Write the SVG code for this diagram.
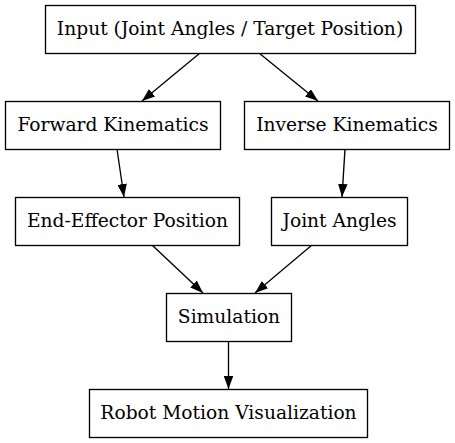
<svg xmlns="http://www.w3.org/2000/svg" width="455" height="443" viewBox="0 0 455 443">
<style>
.node rect{fill:#fff;stroke:#000;stroke-width:1.33}
.node text{font-family:"DejaVu Serif",serif;font-size:18.67px;fill:#000;text-anchor:middle}
.edges line{stroke:#000;stroke-width:1.33}
</style>
<defs>
<marker id="arr" viewBox="0 0 13 9.5" refX="13" refY="4.75" markerWidth="13" markerHeight="9.5" markerUnits="userSpaceOnUse" orient="auto">
<path d="M0,0 L13,4.75 L0,9.5 z" fill="#000"/>
</marker>
</defs>
<rect width="455" height="443" fill="#fff"/>
<g class="edges">
<line x1="200" y1="53" x2="142" y2="101" marker-end="url(#arr)"/>
<line x1="259" y1="53" x2="318" y2="101" marker-end="url(#arr)"/>
<line x1="117" y1="149" x2="124" y2="197" marker-end="url(#arr)"/>
<line x1="345" y1="149" x2="342" y2="197" marker-end="url(#arr)"/>
<line x1="152" y1="245" x2="203" y2="293" marker-end="url(#arr)"/>
<line x1="312" y1="245" x2="255" y2="293" marker-end="url(#arr)"/>
<line x1="228.5" y1="341" x2="228.5" y2="389" marker-end="url(#arr)"/>
</g>
<g id="input" class="node"><rect x="45.5" y="5.5" width="370" height="48"/><text x="230" y="35">Input (Joint Angles / Target Position)</text></g>
<g id="fk" class="node"><rect x="5.5" y="101.5" width="215" height="48"/><text x="113" y="131">Forward Kinematics</text></g>
<g id="ik" class="node"><rect x="244.5" y="101.5" width="205" height="48"/><text x="347" y="131">Inverse Kinematics</text></g>
<g id="ee" class="node"><rect x="15.5" y="197.5" width="224" height="48"/><text x="127.5" y="227">End-Effector Position</text></g>
<g id="ja" class="node"><rect x="271.5" y="197.5" width="136" height="48"/><text x="339.5" y="227">Joint Angles</text></g>
<g id="sim" class="node"><rect x="166.5" y="293.5" width="125" height="48"/><text x="229" y="323">Simulation</text></g>
<g id="viz" class="node"><rect x="89.5" y="389.5" width="278" height="48"/><text x="228.5" y="419">Robot Motion Visualization</text></g>
</svg>
